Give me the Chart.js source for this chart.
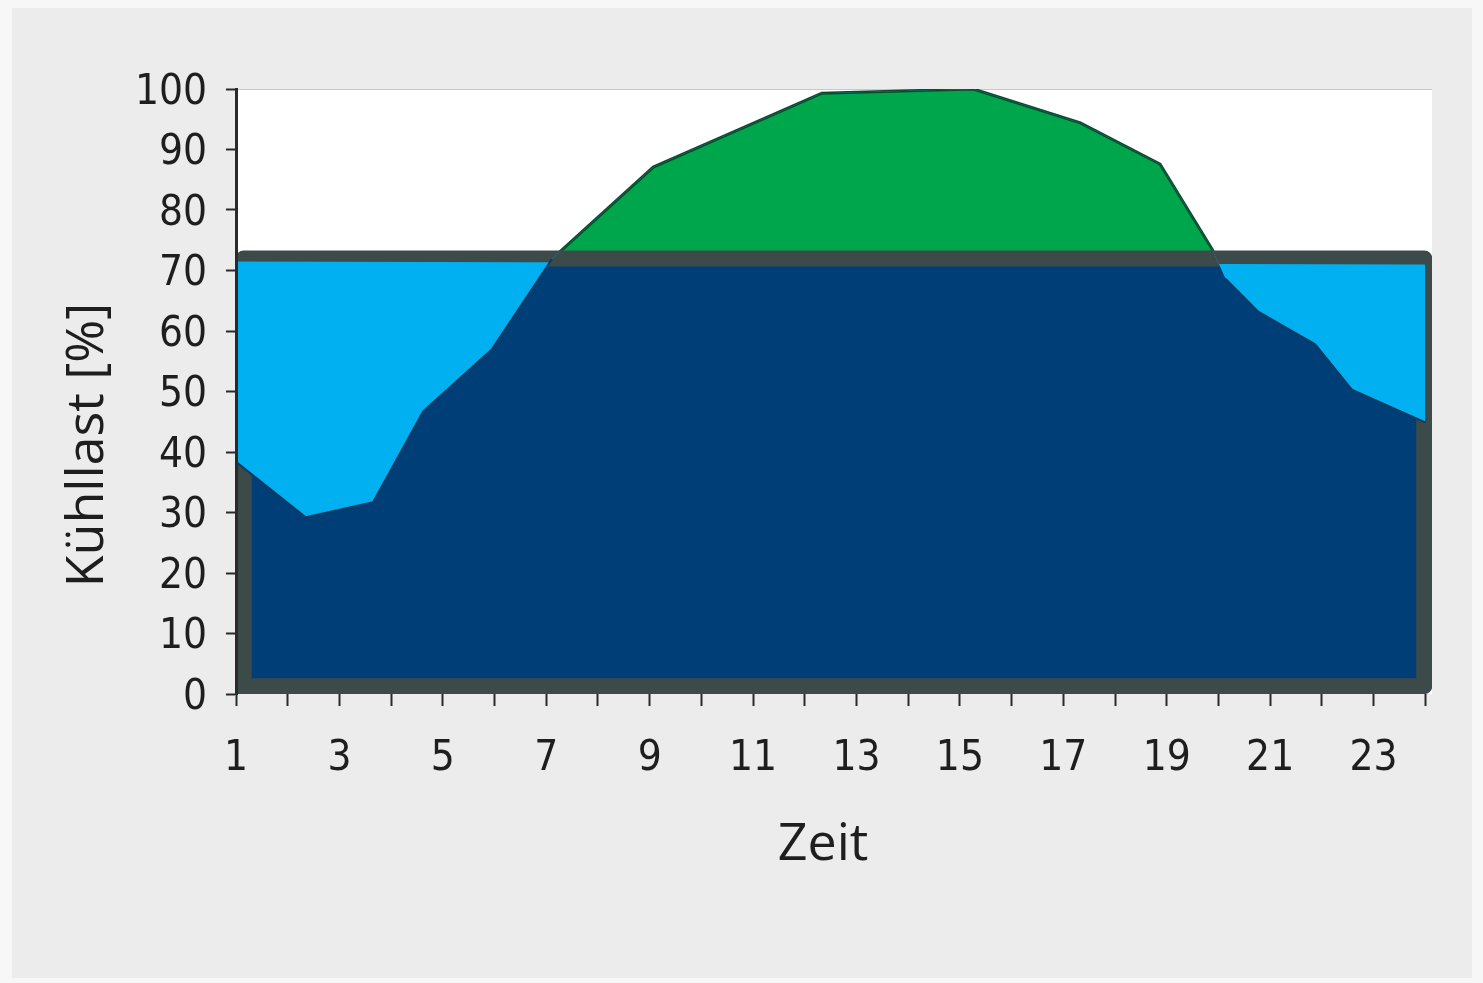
<!DOCTYPE html>
<html lang="de">
<head>
<meta charset="utf-8">
<title>Kühllast</title>
<script src="https://cdn.jsdelivr.net/npm/chart.js@4.4.0/dist/chart.umd.min.js"></script>
<style>
    html, body { margin: 0; padding: 0; background: #f7f7f7; }
    #panel { position: absolute; left: 12px; top: 8px; width: 1460px; height: 970px; background: #edecec; }
    #wrap { position: absolute; left: 0; top: 0; width: 1483px; height: 983px; }
</style>
</head>
<body>
<div id="panel"></div>
<div id="wrap"><canvas id="chart" width="1483" height="983"></canvas></div>
<script>
/* ============================================================
   Kühllast über den Tag
   ============================================================ */

// Lastkurve: Zeit [h] und Kühllast [%]
const hours       = [1, 2.35, 3.65, 4.62, 5.95, 7.11, 9.07, 12.33, 15.26, 17.33, 18.87, 19.88, 20.13, 20.77, 21.87, 22.58, 24];
const coolingLoad = [38.4, 29.2, 31.7, 46.7, 57.0, 71.9, 87.1, 99.3, 100, 94.4, 87.6, 73.5, 68.7, 63.2, 57.8, 50.3, 44.9];

// Leistungsgrenze der Kältemaschine
const capacityHours = [1, 24];
const capacityLevel = [71.5, 71.0];
const baseLevel     = [72, 72];

// Rahmen um den gedeckten Bereich
const frameHours = [1.15, 1.15, 23.98, 23.98, 1.15];
const frameLevel = [1.3, 72, 72, 1.3, 1.3];

// Achsen
const xTickLabels = [1, 3, 5, 7, 9, 11, 13, 15, 17, 19, 21, 23];
const yTickValues = [0, 10, 20, 30, 40, 50, 60, 70, 80, 90, 100];

const COLORS = {
    green: '#00a64b',
    greenLine: '#0d4a2b',
    darkBlue: '#003e78',
    navyLine: '#0b3a62',
    lightBlue: '#00b0f0',
    frame: '#3c4a4a',
    text: '#1e1e1e'
};

const tickFont = { family: "'Liberation Sans Narrow', 'DejaVu Sans Condensed', sans-serif", size: 42 };
const titleFont = { family: "'Open Sans', sans-serif", size: 52 };

const toPoints = (xs, ys) => xs.map((x, i) => ({ x: x, y: ys[i] }));
const CAP = baseLevel[0];

// weißer Hintergrund der Zeichenfläche
const plotBackground = {
    id: 'plotBackground',
    beforeDraw(chart) {
        const { ctx, chartArea: a } = chart;
        ctx.save();
        ctx.fillStyle = '#ffffff';
        ctx.fillRect(a.left, a.top, a.right - a.left, a.bottom - a.top);
        ctx.strokeStyle = '#c9c9c9';
        ctx.lineWidth = 1;
        ctx.beginPath();
        ctx.moveTo(a.left, a.top + 0.5);
        ctx.lineTo(a.right, a.top + 0.5);
        ctx.stroke();
        ctx.restore();
    }
};

// Achsentitel, etwas versetzt wie im Original
const axisTitles = {
    id: 'axisTitles',
    afterDraw(chart) {
        const { ctx, chartArea: a } = chart;
        ctx.save();
        ctx.font = `${titleFont.size}px ${titleFont.family}`;
        ctx.fillStyle = COLORS.text;
        ctx.textAlign = 'center';
        ctx.textBaseline = 'middle';
        ctx.fillText('Zeit', a.left + 587, a.bottom + 151);
        ctx.translate(a.left - 148, a.bottom - 249);
        ctx.rotate(-Math.PI / 2);
        ctx.fillText('Kühllast [%]', 0, 0);
        ctx.restore();
    }
};

new Chart(document.getElementById('chart'), {
    type: 'line',
    data: {
        datasets: [
            {
                // Lastspitze (grün), liegt ganz unten
                label: 'Kühllast',
                data: toPoints(hours, coolingLoad),
                order: 5,
                fill: 'origin',
                backgroundColor: COLORS.green,
                borderColor: COLORS.greenLine,
                borderWidth: 3,
                pointRadius: 0,
                tension: 0
            },
            {
                // gedeckte Grundlast
                label: 'Grundlast',
                data: toPoints(capacityHours, baseLevel),
                order: 4,
                fill: 'origin',
                backgroundColor: COLORS.darkBlue,
                borderColor: 'rgba(0,0,0,0)',
                borderWidth: 0,
                pointRadius: 0
            },
            {
                label: 'Rahmen',
                data: toPoints(frameHours, frameLevel),
                order: 3,
                fill: false,
                borderColor: COLORS.frame,
                borderWidth: 16,
                borderJoinStyle: 'round',
                borderCapStyle: 'square',
                pointRadius: 0,
                tension: 0
            },
            {
                // ungenutzte Leistung (hellblau)
                label: 'Kapazität',
                data: toPoints(capacityHours, capacityLevel),
                order: 2,
                fill: { target: 0, above: COLORS.lightBlue, below: 'rgba(0,0,0,0)' },
                borderColor: 'rgba(0,0,0,0)',
                borderWidth: 0,
                pointRadius: 0
            },
            {
                label: 'Lastkurve',
                data: toPoints(hours, coolingLoad),
                order: 1,
                fill: false,
                borderWidth: 2,
                borderColor: COLORS.navyLine,
                pointRadius: 0,
                tension: 0,
                segment: {
                    borderColor: c => (c.p0.parsed.y > CAP || c.p1.parsed.y > CAP) ? 'rgba(0,0,0,0)' : COLORS.navyLine
                }
            }
        ]
    },
    options: {
        responsive: false,
        animation: false,
        layout: { padding: { left: 58, right: 51, top: 89, bottom: 107 } },
        plugins: {
            legend: { display: false },
            tooltip: { enabled: false }
        },
        scales: {
            x: {
                type: 'linear',
                min: 1,
                max: 24.13,
                afterFit: s => { s.height = 182; },
                ticks: {
                    stepSize: 1,
                    includeBounds: false,
                    autoSkip: false,
                    maxRotation: 0,
                    padding: 28,
                    color: COLORS.text,
                    font: tickFont,
                    callback: v => xTickLabels.includes(v) ? String(v) : ''
                },
                grid: { drawOnChartArea: false, tickLength: 12, tickWidth: 2, tickColor: '#2a2a2a' },
                border: { display: false }
            },
            y: {
                min: yTickValues[0],
                max: yTickValues[yTickValues.length - 1],
                afterFit: s => { s.width = 178; },
                afterBuildTicks: s => { s.ticks = yTickValues.map(v => ({ value: v })); },
                ticks: { padding: 19, labelOffset: 4, color: COLORS.text, font: tickFont },
                grid: { drawOnChartArea: false, tickLength: 10, tickWidth: 2, tickColor: '#2a2a2a' },
                border: { display: true, color: '#2a2a2a', width: 3, z: 1 }
            }
        }
    },
    plugins: [plotBackground, axisTitles]
});
</script>
</body>
</html>
